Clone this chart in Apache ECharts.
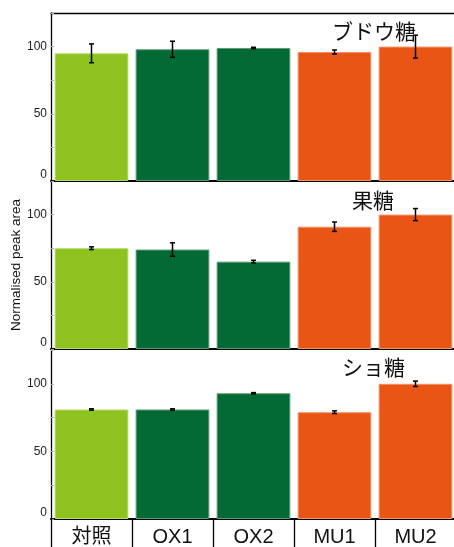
<!DOCTYPE html>
<html>
<head>
<meta charset="utf-8">
<script src="https://cdn.jsdelivr.net/npm/echarts@6/dist/echarts.min.js"></script>
<style>
  html, body { margin: 0; padding: 0; background: #fff; }
  #chart { width: 454px; height: 547px; }
</style>
</head>
<body>
<div id="chart"></div>
<script>
// data
const categories = ['対照', 'OX1', 'OX2', 'MU1', 'MU2']
const panelTitles = ['ブドウ糖', '果糖', 'ショ糖']
const glucose = [95, 98, 99, 96, 100]
const glucoseErr = [7, 6, 0.5, 1.5, 8.5]
const fructose = [75, 74, 65, 91, 100]
const fructoseErr = [1, 5, 1, 3.5, 4.5]
const sucrose = [81, 81, 93, 79, 100]
const sucroseErr = [0.5, 0.5, 0.5, 1, 2]

const barColors = ['#8DC21F', '#046A35', '#046A35', '#E95514', '#E95514']
const edgeColors = ['#b5d96c', '#5d9a78', '#5d9a78', '#f2936a', '#f2936a']
const latin = '"Liberation Sans", "Noto Sans CJK JP", sans-serif'
const cjk = '"Noto Sans CJK JP", sans-serif'

const values = [glucose, fructose, sucrose]
const errors = [glucoseErr, fructoseErr, sucroseErr]

// panel layout
const grids = [
  { left: 51, right: -2, top: 13, height: 168 },
  { left: 51, right: -2, top: 181, height: 168 },
  { left: 51, right: -2, top: 350, height: 169 }
]
const titlePos = [[332, 21], [352, 190], [342, 357]]

function errorBar (params, api) {
  const x = api.value(0)
  const top = api.coord([x, api.value(2)])
  const bot = api.coord([x, api.value(1)])
  const w = 2.5
  const st = { stroke: '#000', lineWidth: 1.5 }
  return {
    type: 'group',
    children: [
      { type: 'line', shape: { x1: top[0], y1: top[1], x2: bot[0], y2: bot[1] }, style: st },
      { type: 'line', shape: { x1: top[0] - w, y1: top[1], x2: top[0] + w, y2: top[1] }, style: st },
      { type: 'line', shape: { x1: bot[0] - w, y1: bot[1], x2: bot[0] + w, y2: bot[1] }, style: st }
    ]
  }
}

const xAxis = []
const yAxis = []
const series = []

grids.forEach((g, i) => {
  g.outerBoundsMode = 'none'
  g.containLabel = false
  const last = i === grids.length - 1
  xAxis.push({
    gridIndex: i,
    type: 'category',
    data: categories,
    axisLine: { lineStyle: { color: '#000', width: 2 } },
    axisTick: {
      show: last,
      interval: 0,
      alignWithLabel: false,
      length: 28,
      lineStyle: { color: '#000', width: 1.3 }
    },
    axisLabel: {
      show: last,
      interval: 0,
      margin: 8,
      fontSize: 20,
      color: '#111',
      fontFamily: latin
    },
    splitLine: { show: false }
  })
  yAxis.push({
    gridIndex: i,
    type: 'value',
    min: 0,
    max: 125,
    interval: 25,
    name: i === 1 ? 'Normalised peak area' : '',
    nameLocation: 'middle',
    nameRotate: 90,
    nameGap: 28,
    nameMoveOverlap: false,
    nameTextStyle: { fontSize: 13.5, color: '#111', fontFamily: latin },
    axisLine: { show: true, lineStyle: { color: '#000', width: 1.3 } },
    axisTick: { show: true, inside: true, length: 3, lineStyle: { color: '#aaa' } },
    axisLabel: {
      margin: 4,
      fontSize: 12,
      color: '#222',
      fontFamily: latin,
      verticalAlignMinLabel: 'bottom',
      formatter: v => (v % 50 === 0 ? String(v) : '')
    },
    splitLine: { show: false }
  })
  series.push({
    type: 'bar',
    xAxisIndex: i,
    yAxisIndex: i,
    barCategoryGap: '9%',
    data: values[i].map((v, k) => ({
      value: v,
      itemStyle: { color: barColors[k], borderColor: edgeColors[k], borderWidth: 1 }
    }))
  })
  series.push({
    type: 'custom',
    xAxisIndex: i,
    yAxisIndex: i,
    renderItem: errorBar,
    encode: { x: 0, y: [1, 2] },
    z: 5,
    data: values[i].map((v, k) => [k, v - errors[i][k], v + errors[i][k]])
  })
})

// top border of the first panel
xAxis.push({
  gridIndex: 0,
  type: 'category',
  position: 'top',
  data: categories,
  axisLine: { lineStyle: { color: '#000', width: 1.3 } },
  axisTick: { show: false },
  axisLabel: { show: false }
})

const chart = echarts.init(document.getElementById('chart'))
chart.setOption({
  animation: false,
  backgroundColor: '#fff',
  grid: grids,
  xAxis: xAxis,
  yAxis: yAxis,
  series: series,
  graphic: panelTitles.map((t, i) => ({
    type: 'text',
    left: titlePos[i][0],
    top: titlePos[i][1],
    z: 10,
    style: { text: t, fontSize: 21, fontFamily: cjk, fill: '#111' }
  }))
})
</script>
</body>
</html>
